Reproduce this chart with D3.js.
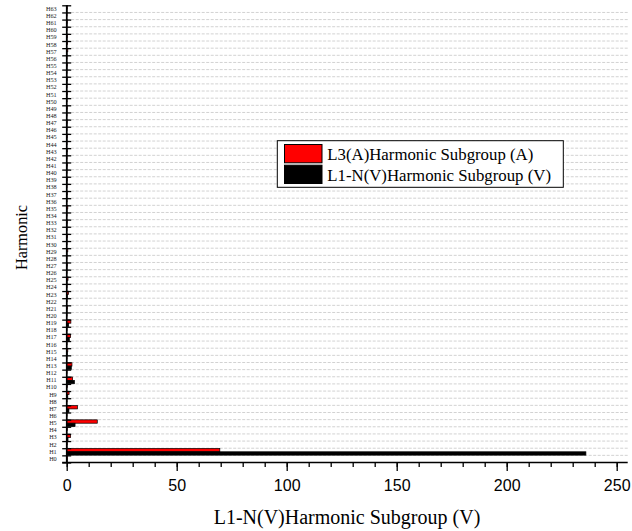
<!DOCTYPE html>
<html>
<head>
<meta charset="utf-8">
<script src="https://cdn.jsdelivr.net/npm/d3@7/dist/d3.min.js"></script>
<style>
  html, body { margin: 0; padding: 0; background: #fff; }
  svg { display: block; }
</style>
</head>
<body>
<svg id="chart" width="632" height="531"></svg>
<script>
// Harmonic orders shown on the category axis
const harmonics = [
  "H0","H1","H2","H3","H4","H5","H6","H7","H8","H9",
  "H10","H11","H12","H13","H14","H15","H16","H17","H18","H19",
  "H20","H21","H22","H23","H24","H25","H26","H27","H28","H29",
  "H30","H31","H32","H33","H34","H35","H36","H37","H38","H39",
  "H40","H41","H42","H43","H44","H45","H46","H47","H48","H49",
  "H50","H51","H52","H53","H54","H55","H56","H57","H58","H59",
  "H60","H61","H62","H63"
];

// L3 current harmonic subgroup (A)
const currentL3 = [
  0.4, 69.6, 0.3, 1.8, 0.3, 13.9, 0.2, 4.9, 0.2, 1.1,
  0.3, 2.7, 0.2, 2.4, 0.2, 0.5, 0.2, 1.8, 0.2, 1.9,
  0.2, 0.4, 0.2, 0.8, 0.2, 0.6, 0.2, 0.3, 0.2, 0.5,
  0.2, 0.4, 0.2, 0.3, 0.2, 0.5, 0.2, 0.3, 0.2, 0.3,
  0.2, 0.3, 0.2, 0.3, 0.2, 0.3, 0.2, 0.3, 0.2, 0.3,
  0.2, 0.3, 0.2, 0.3, 0.2, 0.3, 0.2, 0.5, 0.4, 0.3,
  0.2, 0.3, 0.2, 0.3
];

// L1-N voltage harmonic subgroup (V)
const voltageL1N = [
  0.3, 236.0, 0.2, 0.6, 0.1, 3.8, 0.1, 1.0, 0.1, 0.5,
  0.1, 3.5, 0.1, 2.1, 0.1, 0.3, 0.1, 1.2, 0.1, 0.9,
  0.1, 0.2, 0.1, 0.3, 0.1, 0.2, 0.1, 0.2, 0.1, 0.2,
  0.1, 0.2, 0.1, 0.2, 0.1, 0.2, 0.1, 0.2, 0.1, 0.2,
  0.1, 0.2, 0.1, 0.2, 0.1, 0.2, 0.1, 0.2, 0.1, 0.2,
  0.1, 0.2, 0.1, 0.2, 0.1, 0.2, 0.1, 0.2, 0.1, 0.2,
  0.1, 0.2, 0.1, 0.2
];

const seriesNames = ["L3(A)Harmonic Subgroup (A)", "L1-N(V)Harmonic Subgroup (V)"];
const seriesColors = ["#ff0000", "#000000"];
const xTickValues = [0, 50, 100, 150, 200, 250];

const svg = d3.select("#chart");
const serif = "'Liberation Serif', 'Times New Roman', serif";
const sans = "'Liberation Sans', Arial, sans-serif";

const plotLeft = 66.7, plotRight = 627.7, plotTop = 5.3, plotBottom = 462.5;

const x = d3.scaleLinear().domain([0, 255]).range([plotLeft, plotRight]);
const y = d3.scaleBand().domain(harmonics).range([plotBottom, plotTop]).padding(0);
const yEdge = d3.scaleLinear().domain([0, harmonics.length]).range([plotBottom, plotTop]);
const inner = d3.scaleBand().domain([0, 1]).range([0, y.bandwidth()]).paddingOuter(0.06).paddingInner(0);

// dashed grid along category boundaries
svg.append("g")
  .selectAll("line")
  .data(d3.range(1, harmonics.length))
  .join("line")
  .attr("x1", plotLeft).attr("x2", plotRight)
  .attr("y1", d => yEdge(d)).attr("y2", d => yEdge(d))
  .attr("stroke", "#d2d2d2")
  .attr("stroke-width", 1)
  .attr("stroke-dasharray", "3,1.5");

// bars: L3 current above, L1-N voltage below, within each harmonic band
const rows = harmonics.map((h, i) => ({ h, vals: [currentL3[i], voltageL1N[i]] }));
const groups = svg.append("g").selectAll("g")
  .data(rows).join("g")
  .attr("transform", d => `translate(0,${y(d.h)})`);
groups.selectAll("rect")
  .data(d => d.vals.map((v, k) => ({ v, k })))
  .join("rect")
  .attr("x", x(0))
  .attr("y", d => inner(d.k))
  .attr("width", d => x(d.v) - x(0))
  .attr("height", inner.bandwidth())
  .attr("fill", d => seriesColors[d.k])
  .attr("stroke", "#000")
  .attr("stroke-width", 0.7);

// x axis with major and minor ticks
const xAxisG = svg.append("g").attr("transform", `translate(0,${plotBottom})`);
xAxisG.call(d3.axisBottom(x).tickValues(d3.range(0, 251, 10)).tickSize(4.5).tickFormat(""))
  .call(g => g.select(".domain").remove());
xAxisG.append("g").call(d3.axisBottom(x).tickValues(xTickValues).tickSize(8.5).tickPadding(9)
  .tickFormat(d3.format("d")))
  .call(g => g.select(".domain").remove())
  .call(g => g.selectAll("text").attr("font-family", sans).attr("font-size", 16).attr("fill", "#000"));
xAxisG.selectAll("line").attr("stroke", "#000").attr("stroke-width", 1.3);
xAxisG.append("line").attr("x1", plotLeft - 4.5).attr("x2", plotRight).attr("y1", 0).attr("y2", 0)
  .attr("stroke", "#000").attr("stroke-width", 1.6);

// y axis: crossing ticks at band boundaries, labels at band centres
const yAxisG = svg.append("g").attr("transform", `translate(${plotLeft},0)`);
yAxisG.append("g").call(d3.axisLeft(yEdge).tickValues(d3.range(0, harmonics.length + 1)).tickSize(4.5).tickFormat(""))
  .call(g => g.select(".domain").remove());
yAxisG.append("g").call(d3.axisRight(yEdge).tickValues(d3.range(0, harmonics.length + 1)).tickSize(4.5).tickFormat(""))
  .call(g => g.select(".domain").remove());
yAxisG.selectAll("line").attr("stroke", "#000").attr("stroke-width", 1.3);
yAxisG.append("g").call(d3.axisLeft(y).tickSize(0).tickPadding(10))
  .call(g => g.select(".domain").remove())
  .call(g => g.selectAll("text").attr("font-family", serif).attr("font-size", 6.2).attr("fill", "#222"));
yAxisG.append("line").attr("x1", 0).attr("x2", 0).attr("y1", plotTop).attr("y2", plotBottom)
  .attr("stroke", "#000").attr("stroke-width", 1.6);

// axis titles
svg.append("text")
  .attr("x", (212 + 482) / 2).attr("y", 523.5)
  .attr("text-anchor", "middle")
  .attr("font-family", serif).attr("font-size", 20)
  .text("L1-N(V)Harmonic Subgroup (V)");
svg.append("text")
  .attr("transform", "translate(27.3,237.5) rotate(-90)")
  .attr("text-anchor", "middle")
  .attr("font-family", serif).attr("font-size", 16.3)
  .text("Harmonic");

// legend
const legend = svg.append("g");
legend.append("rect")
  .attr("x", 277.3).attr("y", 140.7).attr("width", 286).attr("height", 46.6)
  .attr("fill", "#fff").attr("stroke", "#000").attr("stroke-width", 1);
seriesNames.forEach((name, k) => {
  legend.append("rect")
    .attr("x", 284.5).attr("y", 144.5 + k * 20.7).attr("width", 37.5).attr("height", 18.3)
    .attr("fill", seriesColors[k]).attr("stroke", "#000").attr("stroke-width", 1);
  legend.append("text")
    .attr("x", 327.3).attr("y", 160 + k * 21)
    .attr("font-family", serif).attr("font-size", 16.8)
    .text(name);
});
</script>
</body>
</html>
